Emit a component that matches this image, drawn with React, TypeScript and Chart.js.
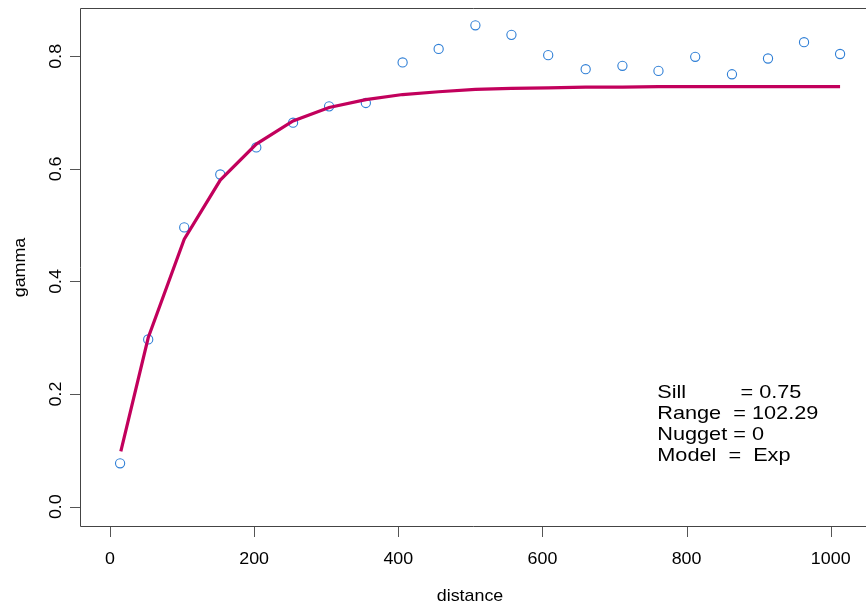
import React, { useEffect, useRef } from "react";
import { Chart, registerables } from "chart.js";

Chart.register(...registerables);

// Empirical semivariogram points
const pointDistance = [14, 53, 103, 153, 203, 254, 304, 355, 406, 456, 507, 557, 608, 660, 711, 761, 812, 863, 913, 963, 1013];
const pointGamma = [0.077, 0.297, 0.496, 0.590, 0.638, 0.682, 0.711, 0.717, 0.789, 0.813, 0.855, 0.838, 0.802, 0.777, 0.783, 0.774, 0.799, 0.768, 0.796, 0.825, 0.804];

// Fitted exponential model line
const modelDistance = [15, 53, 103, 153, 203, 254, 304, 355, 406, 456, 507, 557, 608, 660, 711, 761, 812, 863, 913, 963, 1013];
const modelGamma = [0.098, 0.300, 0.475, 0.580, 0.644, 0.685, 0.709, 0.723, 0.732, 0.737, 0.741, 0.743, 0.744, 0.745, 0.745, 0.746, 0.746, 0.746, 0.746, 0.746, 0.746];

const xTicks = [0, 200, 400, 600, 800, 1000];
const yTicks = [0, 0.2, 0.4, 0.6, 0.8];
const yTickLabels = ["0.0", "0.2", "0.4", "0.6", "0.8"];

const annotationLines = ["Sill         = 0.75", "Range  = 102.29", "Nugget = 0", "Model  =  Exp"];

const FONT = '"Liberation Sans", Arial, sans-serif';

const rAxesPlugin = {
  id: "rAxes",
  afterDraw(chart: any) {
    const ctx = chart.ctx as CanvasRenderingContext2D;
    const { left, right, top, bottom } = chart.chartArea;
    const xs = chart.scales.x;
    const ys = chart.scales.y;
    ctx.save();
    // box (right edge is outside the picture)
    ctx.strokeStyle = "#444";
    ctx.lineWidth = 1;
    ctx.beginPath();
    ctx.moveTo(right + 2, top + 0.5);
    ctx.lineTo(left + 0.5, top + 0.5);
    ctx.lineTo(left + 0.5, bottom - 0.5);
    ctx.lineTo(right + 2, bottom - 0.5);
    ctx.stroke();

    // ticks
    ctx.strokeStyle = "#555";
    ctx.beginPath();
    xTicks.forEach((v) => {
      const px = Math.round(xs.getPixelForValue(v)) + 0.5;
      ctx.moveTo(px, bottom);
      ctx.lineTo(px, bottom + 10);
    });
    yTicks.forEach((v) => {
      const py = Math.round(ys.getPixelForValue(v)) + 0.5;
      ctx.moveTo(left, py);
      ctx.lineTo(left - 10, py);
    });
    ctx.stroke();

    // tick labels
    ctx.fillStyle = "#000";
    ctx.font = `17px ${FONT}`;
    ctx.textAlign = "center";
    ctx.textBaseline = "alphabetic";
    xTicks.forEach((v) => {
      const px = xs.getPixelForValue(v);
      ctx.save();
      ctx.translate(px, bottom + 37);
      ctx.scale(1.05, 1);
      ctx.fillText(String(v), 0, 0);
      ctx.restore();
    });
    yTicks.forEach((v, i) => {
      const py = ys.getPixelForValue(v);
      ctx.save();
      ctx.translate(left - 19, py);
      ctx.rotate(-Math.PI / 2);
      ctx.scale(1.05, 1);
      ctx.fillText(yTickLabels[i], 0, 0);
      ctx.restore();
    });

    // axis titles
    ctx.save();
    ctx.translate(470, 601);
    ctx.scale(1.05, 1);
    ctx.fillText("distance", 0, 0);
    ctx.restore();
    ctx.save();
    ctx.translate(25, (top + bottom) / 2);
    ctx.rotate(-Math.PI / 2);
    ctx.scale(1.05, 1);
    ctx.fillText("gamma", 0, 0);
    ctx.restore();

    // annotation
    ctx.font = `18.5px ${FONT}`;
    ctx.textAlign = "left";
    const baseX = xs.getPixelForValue(760) - 0.5;
    const baseY = ys.getPixelForValue(0.193);
    annotationLines.forEach((s, i) => {
      ctx.save();
      ctx.translate(baseX, baseY + i * 21.1);
      ctx.scale(1.173, 1);
      ctx.fillText(s, 0, 0);
      ctx.restore();
    });
    ctx.restore();
  },
};

export default function App() {
  const ref = useRef<HTMLCanvasElement | null>(null);
  useEffect(() => {
    document.body.style.margin = "0";
    document.body.style.overflow = "hidden";
    const canvas = ref.current;
    if (!canvas) return;
    const chart = new Chart(canvas, {
      type: "scatter",
      data: {
        datasets: [
          {
            type: "line",
            data: modelDistance.map((d, i) => ({ x: d, y: modelGamma[i] })),
            borderColor: "#C2005C",
            backgroundColor: "#C2005C",
            borderWidth: 3.2,
            pointRadius: 0,
            tension: 0,
            fill: false,
            order: 0,
          },
          {
            type: "scatter",
            data: pointDistance.map((d, i) => ({ x: d, y: pointGamma[i] })),
            borderColor: "#2F7FD6",
            backgroundColor: "rgba(0,0,0,0)",
            borderWidth: 1.1,
            pointRadius: 4.6,
            order: 1,
          },
        ],
      },
      options: {
        responsive: false,
        animation: false,
        devicePixelRatio: 1,
        layout: { autoPadding: false, padding: { left: 80, right: 0, top: 8, bottom: 77 } },
        plugins: { legend: { display: false }, tooltip: { enabled: false } },
        scales: {
          x: { type: "linear", min: -41.63, max: 1048.97, display: false },
          y: { type: "linear", min: -0.0361, max: 0.8857, display: false },
        },
      },
      plugins: [rAxesPlugin],
    });
    return () => chart.destroy();
  }, []);
  return (
    <div style={{ width: 866, height: 604, background: "#fff" }}>
      <canvas ref={ref} width={866} height={604} style={{ display: "block" }} />
    </div>
  );
}
